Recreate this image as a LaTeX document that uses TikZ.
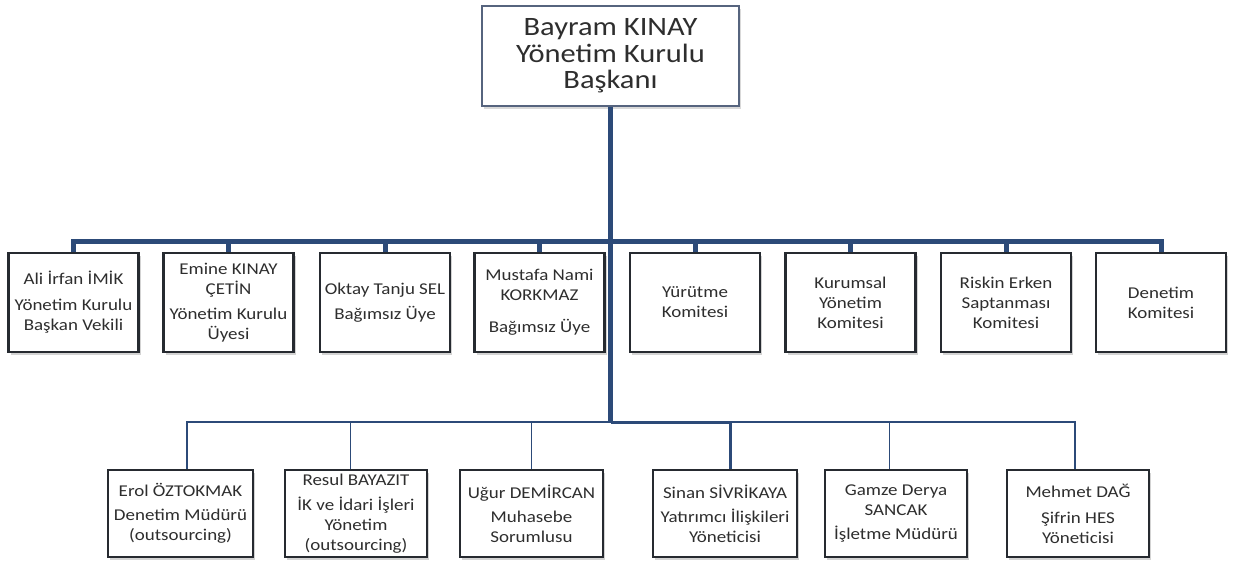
\documentclass[tikz,border=0pt]{standalone}
\usepackage{fontspec}
\setmainfont{Carlito}[FakeStretch=1.15]
\usepackage{tikz}
\usetikzlibrary{shadows}

\definecolor{LineBlue}{HTML}{2C4A78}
\definecolor{BoxEdge}{HTML}{262A30}
\definecolor{TopEdge}{HTML}{56647E}
\definecolor{TextGray}{HTML}{2E2E2E}

\tikzset{
  box/.style={draw=BoxEdge, line width=2.2pt, fill=white, align=center, text=TextGray,
    font=\fontsize{16.5}{20}\selectfont, inner sep=1pt,
    drop shadow={shadow xshift=2pt, shadow yshift=-3pt, opacity=0.35}},
  upper/.style={box, minimum width=130pt, minimum height=99pt},
  lower/.style={box, minimum width=143pt, minimum height=87pt},
  bus/.style={LineBlue, line width=5pt},
  thinbus/.style={LineBlue, line width=2.2pt},
}

\begin{document}
\begin{tikzpicture}[x=1pt, y=-1pt]

\useasboundingbox (0, 0) rectangle (1234, 563);

%% Define the nodes
% U = board member, K = committee, M = manager

\node [draw=TopEdge, line width=1.5pt, fill=white, align=center, text=TextGray,
  font=\fontsize{26.5}{26.5}\selectfont, minimum width=257pt, minimum height=100pt,
  drop shadow={shadow xshift=2pt, shadow yshift=-3pt, opacity=0.3}]
  (YK) at (610.5, 56) {Bayram KINAY\\Yönetim Kurulu\\Başkanı};

\coordinate (BUS) at (610.5, 241);
\coordinate (LOW) at (610.5, 422);

\node [upper] (U1) at (73.5, 302.5)  {Ali İrfan İMİK\\[6pt]Yönetim Kurulu\\Başkan Vekili};
\node [upper] (U2) at (228.5, 302.5) {Emine KINAY\\ÇETİN\\[5pt]Yönetim Kurulu\\Üyesi};
\node [upper] (U3) at (385, 302.5)   {Oktay Tanju SEL\\[5pt]Bağımsız Üye};
\node [upper] (U4) at (539.5, 302.5) {Mustafa Nami\\KORKMAZ\\[12pt]Bağımsız Üye};

\node [upper] (K1) at (695, 302.5)   {Yürütme\\Komitesi};
\node [upper] (K2) at (850.5, 302.5) {Kurumsal\\Yönetim\\Komitesi};
\node [upper] (K3) at (1006, 302.5)  {Riskin Erken\\Saptanması\\Komitesi};
\node [upper] (K4) at (1161, 302.5)  {Denetim\\Komitesi};

\node [lower, minimum width=145pt] (M1) at (180.5, 513.5) {Erol ÖZTOKMAK\\[4pt]Denetim Müdürü\\(outsourcing)};
\node [lower, minimum width=142pt] (M2) at (356, 513.5)   {Resul BAYAZIT\\[5pt]İK ve İdari İşleri\\Yönetim\\(outsourcing)};
\node [lower] (M3) at (531.5, 513.5) {Uğur DEMİRCAN\\[4pt]Muhasebe\\Sorumlusu};
\node [lower, minimum width=144pt] (M4) at (725, 513.5)   {Sinan SİVRİKAYA\\[4pt]Yatırımcı İlişkileri\\Yöneticisi};
\node [lower, minimum width=142pt] (M5) at (896, 513.5)   {Gamze Derya\\SANCAK\\[4pt]İşletme Müdürü};
\node [lower, minimum width=142pt] (M6) at (1078, 513.5)  {Mehmet DAĞ\\[6pt]Şifrin HES\\Yöneticisi};

%% Draw the connectors
\draw [bus] (YK.south) -- (LOW);
\foreach \n in {U1, U2, U3, U4, K1, K2, K3, K4}
  \draw [bus] (BUS) -| (\n.north);

\draw [thinbus] (LOW) -| ([xshift=6.5pt]M1.north);
\draw [thinbus, line width=1pt] (LOW) -| ([xshift=-6pt]M2.north);
\draw [thinbus, line width=1pt] (LOW) -| (M3.north);
\draw [thinbus, line width=3pt] (LOW) -| ([xshift=5pt]M4.north);
\draw [thinbus, line width=1pt] (LOW) -| ([xshift=-7pt]M5.north);
\draw [thinbus] (LOW) -| ([xshift=-3pt]M6.north);

\end{tikzpicture}
\end{document}
